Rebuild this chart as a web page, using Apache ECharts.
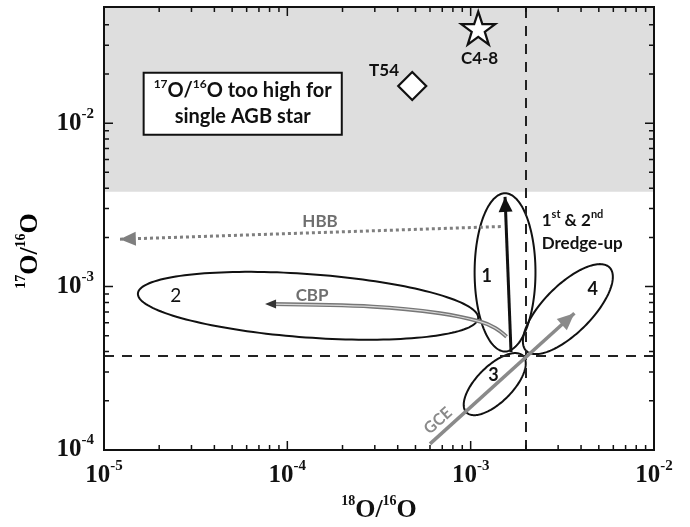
<!DOCTYPE html>
<html><head><meta charset="utf-8">
<script src="https://cdn.jsdelivr.net/npm/echarts@6/dist/echarts.min.js"></script>
<style>html,body{margin:0;padding:0;background:#fff}#c{width:690px;height:527px}</style>
</head><body><div id="c"></div>
<script>
// ---------- data ----------
const xRange = [1e-5, 1e-2];
const yRange = [1e-4, 0.0514];
const xMajorTicks = [1e-5, 1e-4, 1e-3, 1e-2];
const yMajorTicks = [1e-4, 1e-3, 1e-2];
const xMinorTicks = [2e-5,3e-5,4e-5,5e-5,6e-5,7e-5,8e-5,9e-5,2e-4,3e-4,4e-4,5e-4,6e-4,7e-4,8e-4,9e-4,2e-3,3e-3,4e-3,5e-3,6e-3,7e-3,8e-3,9e-3];
const yMinorTicks = [2e-4,3e-4,4e-4,5e-4,6e-4,7e-4,8e-4,9e-4,2e-3,3e-3,4e-3,5e-3,6e-3,7e-3,8e-3,9e-3,2e-2,3e-2,4e-2];
const solar18O = 2.0e-3;      // vertical dashed line
const solar17O = 3.8e-4;      // horizontal dashed line
const agbLimit17O = 3.8e-3;   // lower edge of shaded band
const grainT54 = [4.8e-4, 1.69e-2];
const grainC48 = [1.1e-3, 3.82e-2];
// ellipses: centre x, centre y, half-axis u (decades dx, dy), half-axis v (decades dx, dy)
const ellipse1 = [1.54e-3, 1.222e-3, 0, 0.484, 0.166, 0];
const ellipse2 = [1.297e-4, 7.63e-4, 0.928, -0.0755, -0.0125, -0.1935];
const ellipse3 = [1.353e-3, 2.53e-4, 0.1543, 0.1732, 0.0694, -0.078];
const ellipse4 = [3.39e-3, 7.28e-4, 0.2272, 0.2550, 0.0926, -0.1039];
const hbbArrow = [[1.46e-3, 2.33e-3], [1.22e-5, 1.95e-3]];
const dredgeArrow = [[1.66e-3, 3.98e-4], [1.54e-3, 3.54e-3]];
const gceArrow = [[6.0e-4, 1.09e-4], [3.68e-3, 6.87e-4]];
const cbpPath = [[1.57e-3, 4.94e-4], [1.36e-3, 5.58e-4], [1.125e-3, 6.11e-4], [6.8e-4, 6.87e-4], [2.94e-4, 7.54e-4], [8.1e-5, 7.82e-4]];
const xName = '{s|18}{b|O/}{s|16}{b|O}';
const yName = '{s|17}{b|O/}{s|16}{b|O}';
const notes = [
  ['HBB', 1.508e-4, 2.49e-3],
  ['CBP', 1.365e-4, 8.84e-4],
  ['GCE', 6.64e-4, 1.511e-4],
  ['1', 1.225e-3, 1.151e-3],
  ['2', 2.46e-5, 8.81e-4],
  ['3', 1.33e-3, 2.88e-4],
  ['4', 4.63e-3, 9.64e-4],
  ['T54', 3.37e-4, 2.09e-2],
  ['C4-8', 1.118e-3, 2.48e-2],
  ['{t|1}{sup|st}{t| & 2}{sup|nd}\n{t|Dredge-up}', 2.44e-3, 2.17e-3],
  ['{sup|17}{t|O/}{sup|16}{t|O too high for}\n{t|single AGB star}', 5.71e-5, 1.316e-2]
];

// ---------- styles ----------
const SANS = 'Lato';
const SERIF = 'Liberation Serif';
const GRAY = '#7f7f7f';
const starPath = 'path://M50,0 L61.8,35.1 L98.9,35.1 L68.8,56.7 L80.3,91.9 L50,70.2 L19.7,91.9 L31.2,56.7 L1.1,35.1 L38.2,35.1 Z';

function powLabel(v) {
  const l = Math.log10(v), e = Math.round(l);
  if (Math.abs(l - e) > 1e-6) return '';
  return '{b|10}{e|' + e + '}';
}
const powRich = {
  b: {fontFamily: SERIF, fontWeight: 'bold', fontSize: 25, lineHeight: 34, color: '#111'},
  e: {fontFamily: SERIF, fontWeight: 'bold', fontSize: 15, lineHeight: 15, verticalAlign: 'top', color: '#111'}
};
const nameRich = {
  b: {fontFamily: SERIF, fontWeight: 'bold', fontSize: 26, lineHeight: 32, color: '#111'},
  s: {fontFamily: SERIF, fontWeight: 'bold', fontSize: 14, lineHeight: 14, verticalAlign: 'top', color: '#111'}
};
const sansRich = (size) => ({
  t: {fontFamily: SANS, fontWeight: 'bold', fontSize: size, lineHeight: size + 6, color: '#111'},
  sup: {fontFamily: SANS, fontWeight: 'bold', fontSize: Math.round(size * 0.62), lineHeight: Math.round(size * 0.62), verticalAlign: 'top', color: '#111'}
});

function noteLabel(text) {
  const base = {show: true, position: 'inside', formatter: text, fontFamily: SANS, fontWeight: 'bold', fontSize: 18, color: '#111', opacity: 1};
  if (text === 'HBB' || text === 'CBP') return Object.assign(base, {color: '#6f6f6f', fontSize: 17});
  if (text === 'GCE') return Object.assign(base, {color: '#8a8a8a', fontSize: 16, rotate: 42});
  if (text === '2') return Object.assign(base, {fontWeight: 'normal', fontSize: 19});
  if (text === 'T54' || text === 'C4-8') return Object.assign(base, {fontSize: 17});
  if (text.indexOf('Dredge') >= 0) return Object.assign(base, {align: 'left', verticalAlign: 'middle', rich: sansRich(17)});
  if (text.indexOf('AGB') >= 0) return Object.assign(base, {
    align: 'center', verticalAlign: 'middle', rich: sansRich(20),
    backgroundColor: '#ffffff', borderColor: '#111', borderWidth: 2, padding: [4, 9, 4, 9]
  });
  return base;
}

function renderEllipse(params, api) {
  const cx = Math.log10(api.value(0)), cy = Math.log10(api.value(1));
  const ux = api.value(2), uy = api.value(3), vx = api.value(4), vy = api.value(5);
  const pts = [];
  for (let k = 0; k < 160; k++) {
    const t = k / 160 * 2 * Math.PI;
    const lx = cx + Math.cos(t) * ux + Math.sin(t) * vx;
    const ly = cy + Math.cos(t) * uy + Math.sin(t) * vy;
    pts.push(api.coord([Math.pow(10, lx), Math.pow(10, ly)]));
  }
  return {type: 'polygon', shape: {points: pts}, style: {fill: 'none', stroke: '#111', lineWidth: 2}};
}

function renderFrame(params, api) {
  let d = '';
  const seg = (a, b) => { d += 'M' + a[0] + ' ' + a[1] + 'L' + b[0] + ' ' + b[1]; };
  const tx = (v, len) => {
    const b = api.coord([v, yRange[0]]), t = api.coord([v, yRange[1]]);
    seg(b, [b[0], b[1] - len]); seg(t, [t[0], t[1] + len]);
  };
  const ty = (v, len) => {
    const l = api.coord([xRange[0], v]), r = api.coord([xRange[1], v]);
    seg(l, [l[0] + len, l[1]]); seg(r, [r[0] - len, r[1]]);
  };
  xMajorTicks.forEach(v => tx(v, 9)); xMinorTicks.forEach(v => tx(v, 5));
  yMajorTicks.forEach(v => ty(v, 9)); yMinorTicks.forEach(v => ty(v, 5));
  const tl = api.coord([xRange[0], yRange[1]]), br = api.coord([xRange[1], yRange[0]]);
  return {type: 'group', children: [
    {type: 'path', shape: {pathData: d}, style: {fill: 'none', stroke: '#111', lineWidth: 1.5}},
    {type: 'rect', shape: {x: tl[0], y: tl[1], width: br[0] - tl[0], height: br[1] - tl[1]},
      style: {fill: 'none', stroke: '#111', lineWidth: 2}}
  ]};
}

function arrowLine(pts, color, width, type, head) {
  return {
    type: 'line', data: [], z: 4, silent: true,
    markLine: {
      silent: true, animation: false, precision: 10,
      symbolOffset: [[0, 0], [0, head[1] / 2]],
      label: {show: false},
      lineStyle: {color: color, width: width, type: type},
      emphasis: {disabled: true},
      data: [[
        {coord: pts[0], symbol: 'none'},
        {coord: pts[1], symbol: 'triangle', symbolSize: head}
      ]]
    }
  };
}

const chart = echarts.init(document.getElementById('c'), null, {renderer: 'canvas'});
chart.setOption({
  animation: false,
  backgroundColor: '#fff',
  grid: {left: 104, top: 7, width: 550, height: 443, outerBoundsMode: 'none', containLabel: false},
  xAxis: {
    type: 'log', logBase: 10, min: xRange[0], max: xRange[1],
    axisLine: {show: false}, axisTick: {show: false}, splitLine: {show: false}, minorTick: {show: false},
    axisLabel: {formatter: powLabel, rich: powRich, margin: 9, showMinLabel: true, showMaxLabel: true, hideOverlap: false},
    name: xName, nameLocation: 'middle', nameGap: 44, nameTextStyle: {rich: nameRich}
  },
  yAxis: {
    type: 'log', logBase: 10, min: yRange[0], max: yRange[1],
    axisLine: {show: false}, axisTick: {show: false}, splitLine: {show: false}, minorTick: {show: false},
    axisLabel: {formatter: powLabel, rich: powRich, margin: 10, hideOverlap: false}
  },
  graphic: [{
    type: 'text', x: 30, y: 251, rotation: Math.PI / 2, z: 10,
    style: {text: yName, rich: nameRich, align: 'center', verticalAlign: 'middle'}
  }],
  series: [
    { // shaded band + solar dashed lines
      type: 'line', data: [], z: 1, silent: true,
      markArea: {
        silent: true, itemStyle: {color: '#dedede'},
        data: [[{yAxis: agbLimit17O}, {yAxis: yRange[1]}]]
      },
      markLine: {
        silent: true, symbol: 'none', label: {show: false}, precision: 10,
        lineStyle: {color: '#222', width: 2, type: [10, 8]},
        emphasis: {disabled: true},
        data: [{xAxis: solar18O}, {yAxis: solar17O}]
      }
    },
    {
      type: 'custom', z: 3, silent: true, renderItem: renderEllipse,
      encode: {x: 0, y: 1},
      dimensions: ['x', 'y', 'ux', 'uy', 'vx', 'vy'],
      data: [ellipse1, ellipse2, ellipse3, ellipse4]
    },
    arrowLine(hbbArrow, GRAY, 3, 'dotted', [14, 16]),
    arrowLine(dredgeArrow, '#111', 3, 'solid', [14, 15]),
    arrowLine(gceArrow, '#8a8a8a', 3.5, 'solid', [15, 17]),
    { // CBP double line
      type: 'line', data: cbpPath, smooth: 0.35, symbol: 'none', z: 4, silent: true,
      lineStyle: {color: '#777', width: 4}
    },
    {
      type: 'line', data: cbpPath, smooth: 0.35, symbol: 'none', z: 4, silent: true,
      lineStyle: {color: '#d8d8d8', width: 1.2}
    },
    {
      type: 'scatter', z: 4, silent: true,
      data: [cbpPath[cbpPath.length - 1]],
      symbol: 'triangle', symbolRotate: 90, symbolSize: [9, 11],
      itemStyle: {color: '#333', opacity: 1}
    },
    {
      type: 'scatter', z: 5, silent: true,
      data: [
        {value: grainT54, symbol: 'diamond', symbolSize: [28, 28]},
        {value: grainC48, symbol: starPath, symbolSize: [34, 33]}
      ],
      itemStyle: {color: '#fff', borderColor: '#111', borderWidth: 2.2, opacity: 1}
    },
    {
      type: 'scatter', z: 6, silent: true, symbolSize: 0.1,
      itemStyle: {color: 'rgba(0,0,0,0)', opacity: 1},
      data: notes.map(n => ({value: [n[1], n[2]], label: noteLabel(n[0])}))
    },
    {
      type: 'custom', z: 7, silent: true, renderItem: renderFrame, clip: false,
      data: [[1e-3, 1e-3]]
    }
  ]
});
</script>
</body></html>
